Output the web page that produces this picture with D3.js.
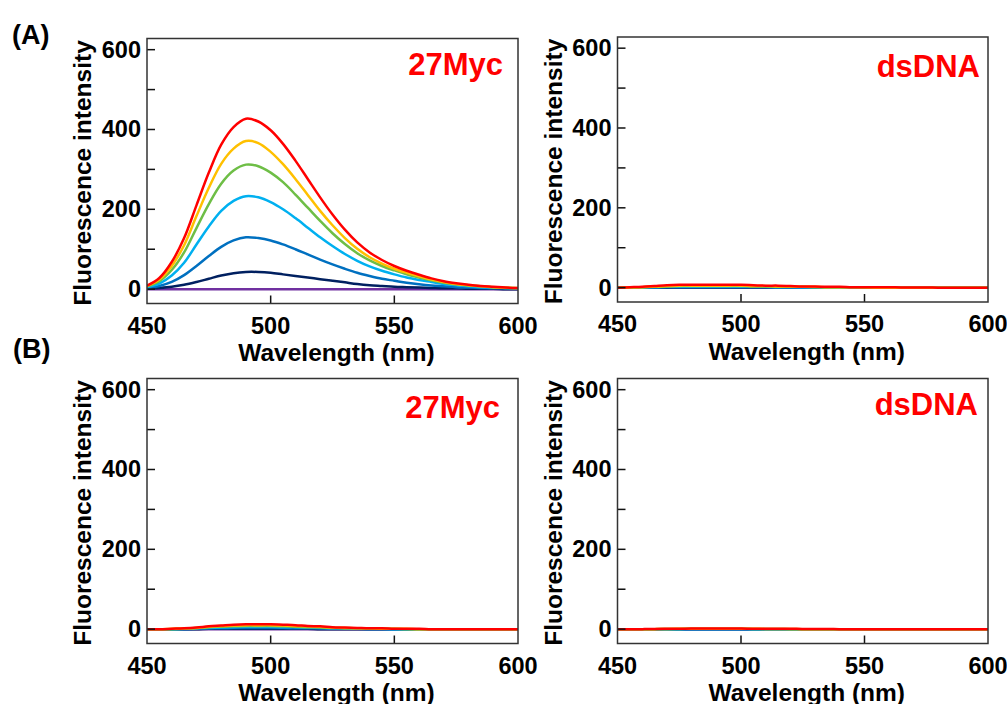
<!DOCTYPE html>
<html>
<head>
<meta charset="utf-8">
<script src="https://cdn.jsdelivr.net/npm/d3@7"></script>
<style>
    body { margin: 0; background: #fff; }
    text { font-family: Arial, "Liberation Sans", sans-serif; font-weight: bold; }
</style>
</head>
<body>
<div id="chart"></div>
<script>
// Wavelength grid (nm)
var wavelength = [450, 455, 460, 465, 470, 475, 480, 485, 490, 495, 500, 505, 510, 515, 520,
    525, 530, 535, 540, 545, 550, 555, 560, 565, 570, 575, 580, 585, 590, 595, 600];

// Line colours, lowest to highest curve (drawn in this order)
var seriesColors = ["#7030A0", "#002060", "#0070C0", "#00B0F0", "#6EBE46", "#FFC000", "#FF0000"];

// Tick values
var xTicks = [450, 500, 550, 600];
var yTicks = [0, 200, 400, 600];
var yMinorTicks = [100, 300, 500];

// (A) 27Myc: purple, navy, blue, light blue, green, orange, red
var myc27A = [
    [0, 0, 0, 0, 0, 0, 0, 0, 0, 0, 0, 0, 0, 0, 0, 0, 0, 0, 0, 0, 0, 0, 0, 0, 0, 0, 0, 0, 0, 0, 0],
    [1, 3, 6, 11, 18, 26, 34, 40, 43, 43, 41, 37, 33, 29, 25, 21, 17, 13, 10, 8, 6, 5, 4, 3, 2, 2, 1, 1, 1, 0, 0],
    [3, 8, 18, 35, 58, 83, 106, 122, 130, 128, 122, 112, 100, 87, 74, 62, 51, 41, 33, 26, 21, 16, 12, 9, 7, 5, 4, 3, 2, 2, 1],
    [5, 14, 34, 66, 112, 157, 196, 221, 233, 230, 218, 200, 178, 154, 130, 108, 88, 71, 57, 46, 37, 29, 23, 18, 13, 10, 7, 5, 4, 3, 2],
    [7, 20, 48, 92, 153, 213, 264, 297, 312, 308, 292, 268, 237, 204, 171, 140, 113, 90, 72, 58, 47, 37, 29, 22, 16, 12, 9, 7, 5, 3, 2],
    [8, 24, 58, 110, 183, 254, 314, 352, 371, 366, 344, 313, 276, 236, 196, 160, 128, 101, 80, 64, 51, 41, 32, 24, 18, 13, 10, 7, 5, 4, 3],
    [9, 28, 68, 128, 210, 292, 362, 406, 427, 420, 398, 364, 322, 276, 230, 187, 149, 117, 92, 73, 58, 46, 36, 27, 20, 15, 11, 8, 6, 4, 3]
];

// (A) dsDNA
var dsdnaA = [
    [0, 0, 0, 0, 0, 0, 0, 0, 0, 0, 0, 0, 0, 0, 0, 0, 0, 0, 0, 0, 0, 0, 0, 0, 0, 0, 0, 0, 0, 0, 0],
    [0, 0, 0, 0, 0, 0.5, 0.5, 0.5, 0.5, 0.5, 0.5, 0.5, 0.5, 0, 0, 0, 0, 0, 0, 0, 0, 0, 0, 0, 0, 0, 0, 0, 0, 0, 0],
    [0, 0, 0, 1, 1, 1, 1, 1, 1, 1, 1, 1, 1, 1, 1, 0, 0, 0, 0, 0, 0, 0, 0, 0, 0, 0, 0, 0, 0, 0, 0],
    [0, 0, 1, 1, 2, 2, 2, 2, 2, 2, 2, 2, 2, 1, 1, 1, 1, 1, 0, 0, 0, 0, 0, 0, 0, 0, 0, 0, 0, 0, 0],
    [0, 0, 1, 2, 3, 4, 4, 4, 4, 4, 4, 3, 3, 3, 2, 2, 1, 1, 1, 1, 0, 0, 0, 0, 0, 0, 0, 0, 0, 0, 0],
    [0, 1, 1, 3, 4, 5, 5, 5, 5, 5, 5, 4, 4, 3, 3, 2, 2, 1, 1, 1, 1, 0, 0, 0, 0, 0, 0, 0, 0, 0, 0],
    [0, 1, 2, 4, 6, 7, 7, 7, 7, 7, 7, 6, 5, 5, 4, 3, 3, 2, 2, 1, 1, 1, 1, 0.5, 0.5, 0.5, 0, 0, 0, 0, 0]
];

// (B) 27Myc
var myc27B = [
    [0, 0, 0, 0, 0, 0, 0, 0, 0, 0, 0, 0, 0, 0, 0, 0, 0, 0, 0, 0, 0, 0, 0, 0, 0, 0, 0, 0, 0, 0, 0],
    [0, 0, 0, 0, 0, 1, 1, 1, 1, 1, 1, 1, 1, 1, 0, 0, 0, 0, 0, 0, 0, 0, 0, 0, 0, 0, 0, 0, 0, 0, 0],
    [0, 0, 0, 0, 1, 2, 2, 3, 3, 3, 3, 3, 2, 2, 2, 1, 1, 1, 0, 0, 0, 0, 0, 0, 0, 0, 0, 0, 0, 0, 0],
    [0, 0, 0, 1, 2, 3, 4, 5, 6, 6, 6, 5, 5, 4, 3, 2, 2, 1, 1, 1, 0, 0, 0, 0, 0, 0, 0, 0, 0, 0, 0],
    [0, 0, 0, 1, 3, 5, 6, 7, 8, 8, 8, 7, 6, 5, 4, 3, 2, 2, 1, 1, 1, 0, 0, 0, 0, 0, 0, 0, 0, 0, 0],
    [0, 0, 1, 2, 3, 6, 8, 9, 10, 10, 10, 9, 8, 7, 6, 4, 3, 2, 2, 1, 1, 1, 0, 0, 0, 0, 0, 0, 0, 0, 0],
    [0, 0, 1, 2, 4, 7, 9, 11, 12, 12, 12, 11, 10, 8, 7, 5, 4, 3, 2, 2, 1, 1, 1, 0, 0, 0, 0, 0, 0, 0, 0]
];

// (B) dsDNA
var dsdnaB = [
    [0, 0, 0, 0, 0, 0, 0, 0, 0, 0, 0, 0, 0, 0, 0, 0, 0, 0, 0, 0, 0, 0, 0, 0, 0, 0, 0, 0, 0, 0, 0],
    [0, 0, 0, 0, 0, 0, 0, 0, 0, 0, 0, 0, 0, 0, 0, 0, 0, 0, 0, 0, 0, 0, 0, 0, 0, 0, 0, 0, 0, 0, 0],
    [0, 0, 0, 0, 0, 0, 0, 0, 0, 0, 0, 0, 0, 0, 0, 0, 0, 0, 0, 0, 0, 0, 0, 0, 0, 0, 0, 0, 0, 0, 0],
    [0, 0, 0, 0, 0, 0, 0.5, 0.5, 0.5, 0.5, 0.5, 0, 0, 0, 0, 0, 0, 0, 0, 0, 0, 0, 0, 0, 0, 0, 0, 0, 0, 0, 0],
    [0, 0, 0, 0, 0.5, 0.5, 1, 1, 1, 1, 1, 0.5, 0.5, 0.5, 0, 0, 0, 0, 0, 0, 0, 0, 0, 0, 0, 0, 0, 0, 0, 0, 0],
    [0, 0, 0, 0, 0.5, 1, 1, 1, 1, 1, 1, 1, 0.5, 0.5, 0.5, 0, 0, 0, 0, 0, 0, 0, 0, 0, 0, 0, 0, 0, 0, 0, 0],
    [0, 0, 0, 0.5, 1, 1, 1.5, 1.5, 1.5, 1.5, 1.5, 1, 1, 1, 1, 0.5, 0.5, 0.5, 0, 0, 0, 0, 0, 0, 0, 0, 0, 0, 0, 0, 0]
];

(function() {

    var width = 1007, height = 704;

    var svg = d3.select("#chart")
        .append("svg")
        .attr("width", width)
        .attr("height", height);

    // Panel boxes and label placement
    var panels = [
        { data: myc27A, name: "27Myc", x0: 147, x1: 518, y0: 38.5, y1: 303.5, lx: 503, ly: 75 },
        { data: dsdnaA, name: "dsDNA", x0: 617.5, x1: 988, y0: 37, y1: 302, lx: 980, ly: 76.5 },
        { data: myc27B, name: "27Myc", x0: 147, x1: 518, y0: 378.5, y1: 643.5, lx: 500, ly: 418 },
        { data: dsdnaB, name: "dsDNA", x0: 617.5, x1: 988, y0: 378.5, y1: 643.5, lx: 978, ly: 415 }
    ];

    panels.forEach(function(p, i) {
        var x = d3.scaleLinear().domain([450, 600]).range([p.x0, p.x1]);
        var y = d3.scaleLinear().domain([-36, 628]).range([p.y1, p.y0]);

        var g = svg.append("g");

        // Clip lines to the frame
        g.append("clipPath")
            .attr("id", "clip" + i)
            .append("rect")
            .attr("x", p.x0)
            .attr("y", p.y0)
            .attr("width", p.x1 - p.x0)
            .attr("height", p.y1 - p.y0);

        var line = d3.line()
            .x(function(d, j) { return x(wavelength[j]); })
            .y(function(d) { return y(d); })
            .curve(d3.curveCatmullRom.alpha(0.5));

        g.append("g")
            .attr("clip-path", "url(#clip" + i + ")")
            .selectAll("path")
            .data(p.data)
            .enter()
            .append("path")
            .attr("d", line)
            .attr("fill", "none")
            .attr("stroke", function(d, j) { return seriesColors[j]; })
            .attr("stroke-width", 2.5);

        // Inward ticks
        g.selectAll(".ytick")
            .data(yTicks.concat(yMinorTicks))
            .enter()
            .append("line")
            .attr("x1", p.x0)
            .attr("x2", p.x0 + 8)
            .attr("y1", function(d) { return y(d); })
            .attr("y2", function(d) { return y(d); })
            .attr("stroke", "#111")
            .attr("stroke-width", 1.5);

        g.selectAll(".xtick")
            .data(xTicks.slice(1, 3))
            .enter()
            .append("line")
            .attr("x1", function(d) { return x(d); })
            .attr("x2", function(d) { return x(d); })
            .attr("y1", p.y1)
            .attr("y2", p.y1 - 8)
            .attr("stroke", "#111")
            .attr("stroke-width", 1.5);

        // Frame
        g.append("rect")
            .attr("x", p.x0)
            .attr("y", p.y0)
            .attr("width", p.x1 - p.x0)
            .attr("height", p.y1 - p.y0)
            .attr("fill", "none")
            .attr("stroke", "#333")
            .attr("stroke-width", 1.5);

        // Tick labels
        g.selectAll(".ylab")
            .data(yTicks)
            .enter()
            .append("text")
            .attr("x", p.x0 - 6)
            .attr("y", function(d) { return y(d) + 8; })
            .attr("text-anchor", "end")
            .attr("font-size", "23.5px")
            .text(function(d) { return d; });

        g.selectAll(".xlab")
            .data(xTicks)
            .enter()
            .append("text")
            .attr("x", function(d) { return x(d); })
            .attr("y", p.y1 + 30)
            .attr("text-anchor", "middle")
            .attr("font-size", "23.5px")
            .text(function(d) { return d; });

        // Axis titles
        g.append("text")
            .attr("transform", "translate(" + (p.x0 - 56) + "," + ((p.y0 + p.y1) / 2 + 2) + ") rotate(-90)")
            .attr("text-anchor", "middle")
            .attr("font-size", "24.5px")
            .text("Fluorescence intensity");

        g.append("text")
            .attr("x", (p.x0 + p.x1) / 2 + 4)
            .attr("y", p.y1 + 57.5)
            .attr("text-anchor", "middle")
            .attr("font-size", "24.5px")
            .text("Wavelength (nm)");

        // Sample name
        g.append("text")
            .attr("x", p.lx)
            .attr("y", p.ly)
            .attr("text-anchor", "end")
            .attr("font-size", "31px")
            .attr("fill", "#FF0000")
            .text(p.name);
    });

    // Figure part letters
    svg.append("text").attr("x", 12).attr("y", 44).attr("font-size", "27px").text("(A)");
    svg.append("text").attr("x", 13).attr("y", 358).attr("font-size", "27px").text("(B)");
}());
</script>
</body>
</html>
